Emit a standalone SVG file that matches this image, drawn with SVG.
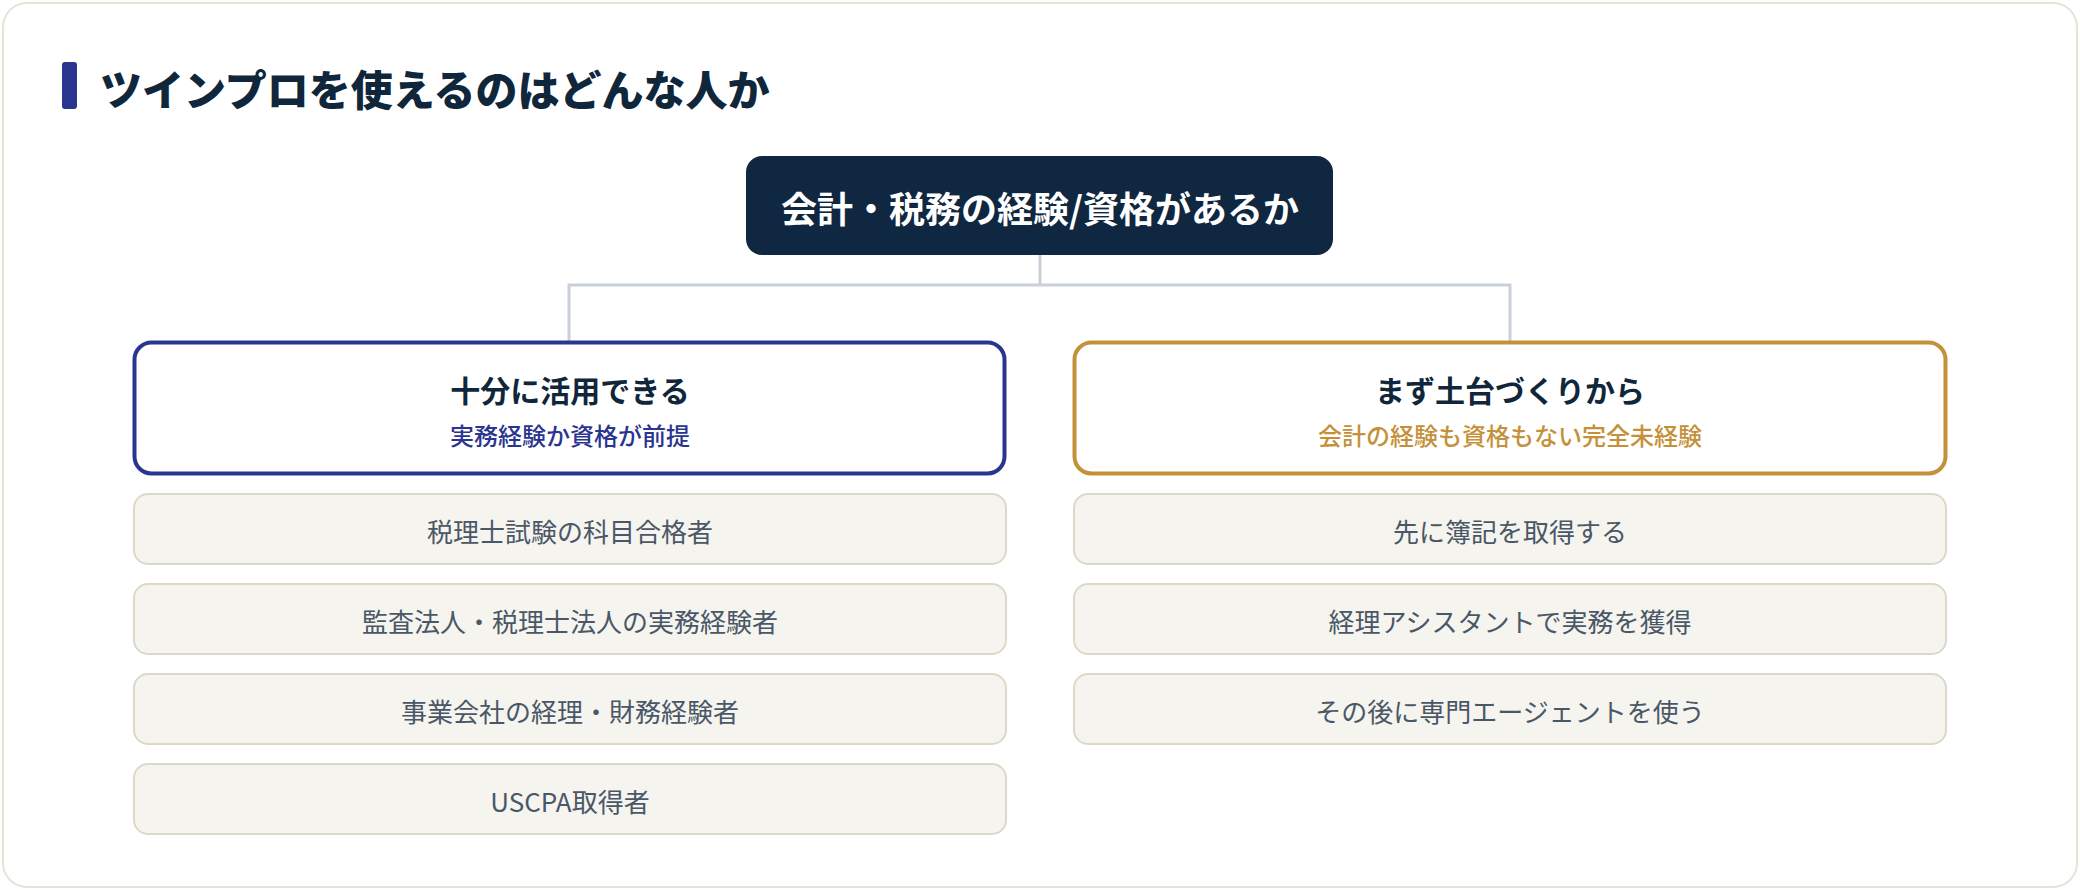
<svg xmlns="http://www.w3.org/2000/svg" width="2080" height="890" viewBox="0 0 2080 890">
<style>
text{font-family:"Noto Sans CJK JP","Noto Sans",sans-serif;text-anchor:middle;dominant-baseline:central}
.item rect{fill:#f5f4ef;stroke:#dcd9c9;stroke-width:2}
.item text{font-size:26px;fill:#4a5766;font-weight:400}
.hd text.t{font-size:30px;font-weight:700;fill:#10263b}
.hd text.s{font-size:24px;font-weight:500}
</style>
<rect x="3" y="3" width="2074" height="884" rx="24" fill="#ffffff" stroke="#e6e4d9" stroke-width="2"/>
<g id="title">
<rect x="62" y="62" width="15" height="47" rx="3" fill="#2a3590"/>
<text x="100" y="87" style="text-anchor:start;font-size:42px;font-weight:900;fill:#10263b">ツインプロを使えるのはどんな人か</text>
</g>
<g id="connectors" fill="none" stroke="#c9d0da" stroke-width="3">
<path d="M1040 255 V285 M569 341 V285 H1510 V341"/>
</g>
<g id="root">
<rect x="746" y="156" width="587" height="99" rx="16" fill="#0f2740"/>
<text x="1040" y="207" style="font-size:36px;font-weight:700;fill:#ffffff">会計・税務の経験/資格があるか</text>
</g>
<g id="left-head" class="hd">
<rect x="134.5" y="342.5" width="870" height="131" rx="17" fill="#ffffff" stroke="#2a3590" stroke-width="4"/>
<text class="t" x="570" y="389">十分に活用できる</text>
<text class="s" x="570" y="434" fill="#2a3590">実務経験か資格が前提</text>
</g>
<g id="right-head" class="hd">
<rect x="1074.5" y="342.5" width="871" height="131" rx="17" fill="#ffffff" stroke="#c4913a" stroke-width="4"/>
<text class="t" x="1510" y="389">まず土台づくりから</text>
<text class="s" x="1510" y="434" fill="#c4913a">会計の経験も資格もない完全未経験</text>
</g>
<g id="l1" class="item"><rect x="134" y="494" width="872" height="70" rx="14"/><text x="570" y="530">税理士試験の科目合格者</text></g>
<g id="l2" class="item"><rect x="134" y="584" width="872" height="70" rx="14"/><text x="570" y="620">監査法人・税理士法人の実務経験者</text></g>
<g id="l3" class="item"><rect x="134" y="674" width="872" height="70" rx="14"/><text x="570" y="710">事業会社の経理・財務経験者</text></g>
<g id="l4" class="item"><rect x="134" y="764" width="872" height="70" rx="14"/><text x="570" y="800">USCPA取得者</text></g>
<g id="r1" class="item"><rect x="1074" y="494" width="872" height="70" rx="14"/><text x="1510" y="530">先に簿記を取得する</text></g>
<g id="r2" class="item"><rect x="1074" y="584" width="872" height="70" rx="14"/><text x="1510" y="620">経理アシスタントで実務を獲得</text></g>
<g id="r3" class="item"><rect x="1074" y="674" width="872" height="70" rx="14"/><text x="1510" y="710">その後に専門エージェントを使う</text></g>
</svg>
